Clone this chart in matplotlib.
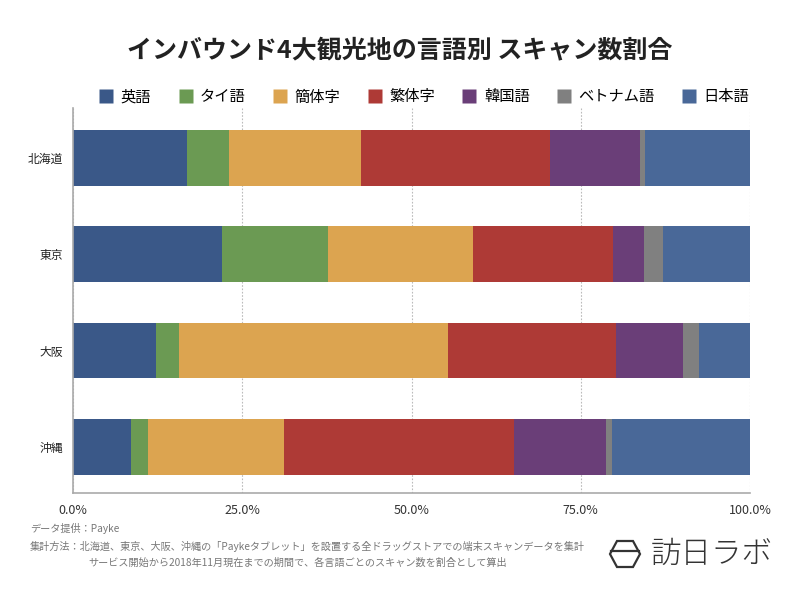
import matplotlib.pyplot as plt
import matplotlib.ticker as mticker
from matplotlib.lines import Line2D
from matplotlib.patches import Polygon

plt.rcParams["font.family"] = ["Noto Sans CJK JP", "DejaVu Sans"]

regions = ["北海道", "東京", "大阪", "沖縄"]
languages = ["英語", "タイ語", "簡体字", "繁体字", "韓国語", "ベトナム語", "日本語"]
colors = ["#3a5888", "#6b9a53", "#dca450", "#ae3a36", "#6a3e78", "#808080", "#496898"]

# share (%) per language, one list per language, in region order
shares = {
    "英語":     [16.9, 22.0, 12.2, 8.6],
    "タイ語":   [6.1, 15.7, 3.4, 2.5],
    "簡体字":   [19.5, 21.4, 39.8, 20.0],
    "繁体字":   [27.9, 20.6, 24.8, 34.0],
    "韓国語":   [13.4, 4.6, 9.9, 13.6],
    "ベトナム語": [0.7, 2.9, 2.4, 0.9],
    "日本語":   [15.5, 12.8, 7.5, 20.4],
}

TEXT = "#222222"

fig = plt.figure(figsize=(8, 6), dpi=100, facecolor="white")
ax = fig.add_axes([0.09125, 1 - 493 / 600, 0.84625, 385 / 600])

y = list(range(len(regions)))
left = [0.0] * len(regions)
for lang, c in zip(languages, colors):
    vals = [v / 100 for v in shares[lang]]
    ax.barh(y, vals, left=left, height=0.58, color=c, edgecolor="none", zorder=2)
    left = [a + b for a, b in zip(left, vals)]

ax.set_xlim(0, 1)
ax.set_ylim(3.48, -0.52)
ax.set_yticks(y)
ax.set_yticklabels(regions, fontsize=8.5, color=TEXT)
ax.set_xticks([0, 0.25, 0.5, 0.75, 1.0])
ax.xaxis.set_major_formatter(mticker.FuncFormatter(lambda v, _: f"{v * 100:.1f}%"))
ax.tick_params(axis="x", labelsize=9, colors="#333333", length=0, pad=8)
ax.tick_params(axis="y", length=0, pad=7)
ax.grid(axis="x", color="#bbbbbb", linestyle=(0, (1.5, 1.5)), linewidth=0.8, zorder=1)
for s in ["top", "right"]:
    ax.spines[s].set_visible(False)
for s in ["left", "bottom"]:
    ax.spines[s].set_color("#aaaaaa")
    ax.spines[s].set_linewidth(1.2)

fig.text(0.5, 1 - 50 / 600, "インバウンド4大観光地の言語別 スキャン数割合",
         ha="center", va="center", fontsize=18, fontweight="bold", color=TEXT)

handles = [Line2D([], [], marker="s", linestyle="none", markersize=10,
                  markerfacecolor=c, markeredgecolor="none") for c in colors]
fig.legend(handles, languages, loc="center", bbox_to_anchor=(0.53, 1 - 97 / 600),
           ncol=7, frameon=False, fontsize=11, handletextpad=0.45,
           columnspacing=1.75, handlelength=1.0)

note_kw = dict(fontsize=7.3, color="#777777", ha="left", va="center")
fig.text(30 / 800, 1 - 528 / 600, "データ提供：Payke", **note_kw)
fig.text(30 / 800, 1 - 546 / 600,
         "集計方法：北海道、東京、大阪、沖縄の「Paykeタブレット」を設置する全ドラッグストアでの端末スキャンデータを集計",
         **note_kw)
fig.text(88 / 800, 1 - 563 / 600,
         "サービス開始から2018年11月現在までの期間で、各言語ごとのスキャン数を割合として算出",
         **note_kw)

# logo
px = [610, 617, 633, 640, 633, 617]
py = [554, 541, 541, 554, 567, 567]
fig.patches.append(Polygon([(a / 800, 1 - b / 600) for a, b in zip(px, py)], closed=True,
                           fill=False, edgecolor="#333333", linewidth=1.6,
                           transform=fig.transFigure))
fig.lines.append(Line2D([611 / 800, 639 / 800], [1 - 551 / 600, 1 - 551 / 600],
                        color="#333333", linewidth=1.6, transform=fig.transFigure))
fig.text(651 / 800, 1 - 554 / 600, "訪日ラボ", fontsize=22, fontweight="light",
         color="#333333", ha="left", va="center")

fig.savefig("out.png", dpi=100, facecolor="white")
